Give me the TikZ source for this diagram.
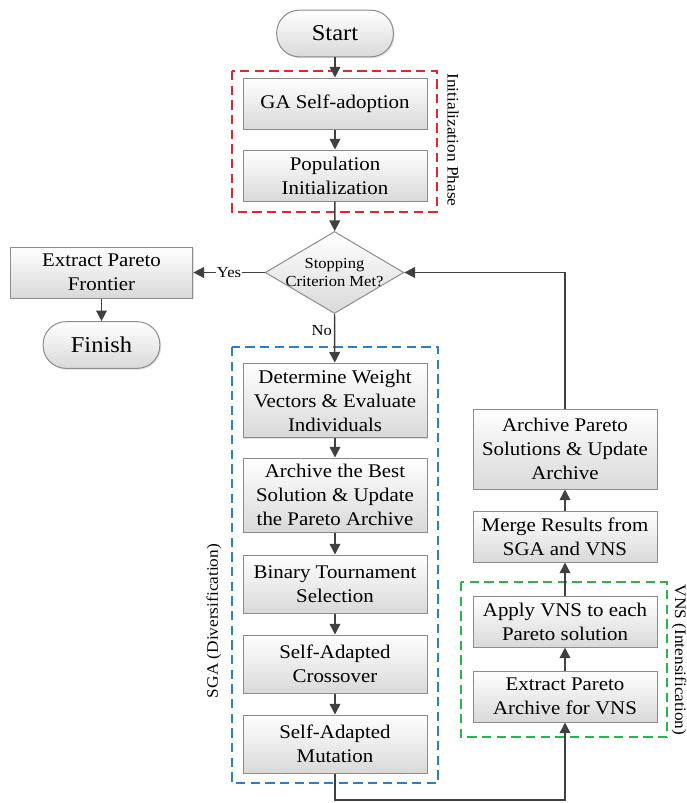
\documentclass[tikz,border=0pt]{standalone}
\usepackage{fontspec}
\setmainfont{Liberation Serif}[FakeStretch=1.08]
\usetikzlibrary{shapes.geometric,arrows.meta,shadows}

\definecolor{linegray}{HTML}{404040}
\definecolor{edgegray}{HTML}{8C8C8C}
\definecolor{phasered}{HTML}{E8232B}
\definecolor{phaseblue}{HTML}{2E7EC4}
\definecolor{phasegreen}{HTML}{2DB34A}

\newcommand{\boxfont}{\fontsize{14.5}{18}\selectfont}
\newcommand{\termfont}{\fontsize{17}{20}\selectfont}
\newcommand{\smallfont}{\fontsize{11.5}{13.5}\selectfont}
\newcommand{\phasefont}{\fontsize{12}{14}\selectfont}

\begin{document}
\begin{tikzpicture}[x=0.75pt,y=-0.75pt,
	>={Triangle[length=8pt,width=8pt]},
	stepbox/.style={draw=edgegray,line width=0.75pt,top color=white,bottom color=black!15,
		drop shadow={shadow xshift=1pt,shadow yshift=-1pt,opacity=0.25},
		minimum width=138pt,minimum height=38.25pt,inner sep=0pt,align=center,font=\boxfont},
	terminal/.style={stepbox,rounded corners=17pt,minimum width=87.5pt,minimum height=35pt,font=\termfont},
	decision/.style={diamond,draw=edgegray,line width=0.75pt,top color=white,bottom color=black!15,
		minimum width=104pt,minimum height=61.5pt,inner sep=0pt},
	phase/.style={dash pattern=on 7pt off 4pt,line width=1.1pt},
	flow/.style={->,draw=linegray,line width=1.1pt}]
		\useasboundingbox (0,0) rectangle (686,803);
		
		% phase frames
		\draw[phase,phasered] (232,71) rectangle (437,212);
		\draw[phase,phaseblue] (232,347) rectangle (438,783);
		\draw[phase,phasegreen] (461,582) rectangle (667,737);
		\node[rotate=-90,font=\phasefont] (initlabel) at (453,140) {Initialization Phase};
		\node[rotate=90,font=\phasefont] (sgalabel) at (214,621) {SGA (Diversification)};
		\node[rotate=-90,font=\phasefont] (vnslabel) at (679,660) {VNS (Intensification)};
		
		% main column
		\node[terminal] (start) at (335,33.5) {Start};
		\node[stepbox] (ga) at (335,103.5) {GA Self-adoption};
		\node[stepbox] (pop) at (335,175.5) {Population\\Initialization};
		\node[decision,label={[align=center,font=\smallfont]center:Stopping\\Criterion Met?}] (stop) at (334.5,272.5) {};
		\node[stepbox,minimum width=137pt] (extract) at (101.5,272.5) {Extract Pareto\\Frontier};
		\node[terminal] (finish) at (101.5,345) {Finish};
		
		% SGA steps
		\node[stepbox,minimum height=56pt] (weight) at (335,400.5) {Determine Weight\\Vectors \& Evaluate\\Individuals};
		\node[stepbox,minimum height=55.5pt] (best) at (335,495) {Archive the Best\\Solution \& Update\\the Pareto Archive};
		\node[stepbox,minimum height=43.5pt] (binary) at (335,584) {Binary Tournament\\Selection};
		\node[stepbox,minimum height=43.5pt] (cross) at (335,664) {Self-Adapted\\Crossover};
		\node[stepbox,minimum height=43.5pt] (mut) at (335,744) {Self-Adapted\\Mutation};
		
		% VNS steps
		\node[stepbox,minimum height=60pt] (archp) at (565,449) {Archive Pareto\\Solutions \& Update\\Archive};
		\node[stepbox] (merge) at (565,536.5) {Merge Results from\\SGA and VNS};
		\node[stepbox] (apply) at (565,621.5) {Apply VNS to each\\Pareto solution};
		\node[stepbox] (vnsx) at (565,696.5) {Extract Pareto\\Archive for VNS};
		
		\coordinate (bend) at (450,800);
		
		% connectors
		\draw[flow] (start) -- (ga);
		\draw[flow] (ga) -- (pop);
		\draw[flow] (pop) -- (stop);
		\draw[flow] (stop.west) -- node[fill=white,inner sep=1pt,font=\smallfont] {Yes} (extract.east);
		\draw[flow] (extract) -- (finish);
		\draw[flow] (stop.south) -- node[left,pos=0.35,inner sep=1.5pt,font=\smallfont] {No} (weight);
		\draw[flow] (weight) -- (best);
		\draw[flow] (best) -- (binary);
		\draw[flow] (binary) -- (cross);
		\draw[flow] (cross) -- (mut);
		\draw[flow] (mut) |- (bend) -| (vnsx);
		\draw[flow] (vnsx) -- (apply);
		\draw[flow] (apply) -- (merge);
		\draw[flow] (merge) -- (archp);
		\draw[flow] (archp) |- (stop.east);
\end{tikzpicture}
\end{document}
